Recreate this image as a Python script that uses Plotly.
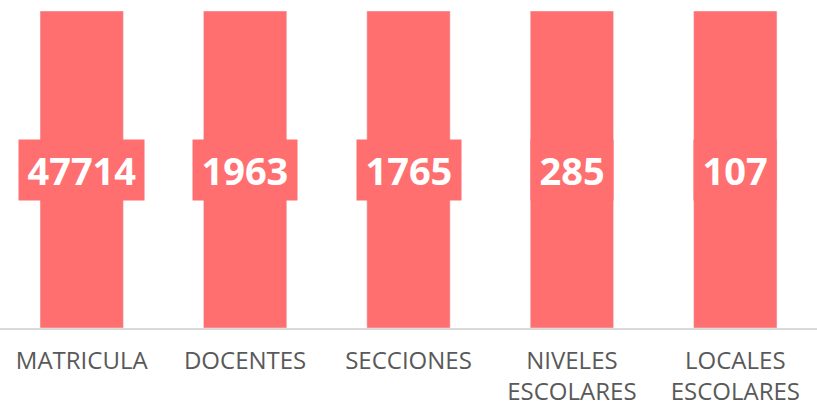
import plotly.graph_objects as go

# Categorías y valores del gráfico
categorias = ["MATRICULA", "DOCENTES", "SECCIONES", "NIVELES<br>ESCOLARES", "LOCALES<br>ESCOLARES"]
valores = [47714, 1963, 1765, 285, 107]
# todas las barras se muestran con la misma altura
alturas = [100, 100, 100, 100, 100]

color_barra = "#FF6F6F"

fig = go.Figure(go.Bar(x=categorias, y=alturas, marker_color=color_barra,
                       width=0.51, hoverinfo="skip"))

# Etiquetas de valor con caja de fondo del color de la barra
esp = '<span style="font-size:17px">&nbsp;</span>'
for cat, val, alt in zip(categorias, valores, alturas):
    fig.add_annotation(x=cat, y=alt / 2, text=esp + "<b>%d</b>" % val + esp,
                       showarrow=False,
                       font=dict(family="Open Sans", size=38, color="white"),
                       bgcolor=color_barra, borderpad=4)

fig.update_layout(
    width=817, height=407,
    margin=dict(l=0, r=0, t=11, b=79),
    plot_bgcolor="white", paper_bgcolor="white",
    showlegend=False,
    xaxis=dict(showline=True, linecolor="#D9D9D9", linewidth=1.5,
               range=[-0.5, 4.5], automargin=False,
               tickfont=dict(family="Open Sans", size=24, color="#595959"),
               ticks="outside", ticklen=10, tickcolor="rgba(0,0,0,0)"),
    yaxis=dict(visible=False, range=[0, 100]),
)

# quitar el margen por defecto del body y la barra de herramientas
fig.write_html("out.html", config={"displayModeBar": False},
               post_script="document.body.style.margin='0';")
